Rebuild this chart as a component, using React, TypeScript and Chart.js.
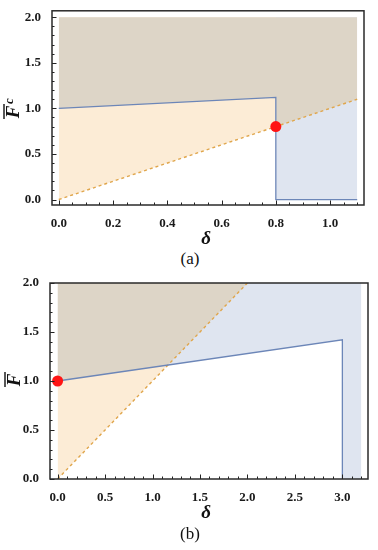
import React, { useEffect, useRef } from "react";
import { Chart, registerables } from "chart.js";
Chart.register(...registerables);

// ---------- Panel (a) data ----------
const A_X_TICKS = [0, 0.2, 0.4, 0.6, 0.8, 1.0];
const A_Y_TICKS = [0, 0.5, 1.0, 1.5, 2.0];
const A_DASH_X = [0, 1.1];
const A_DASH_Y = [0, 1.1];
const A_BLUE_X = [0, 0.8, 0.8, 1.1];
const A_BLUE_Y = [1.0, 1.12, 0, 0];
const A_ORANGE_X = [0, 0.8];
const A_ORANGE_Y = [0, 0.8];
const A_BLUEREG_X = [0.8, 1.1];
const A_BLUEREG_Y = [0, 0];
const A_GRAY_X = [0, 0.8, 0.8, 1.1];
const A_GRAY_Y = [1.0, 1.12, 0.8, 1.1];
const A_DOT_X = [0.8];
const A_DOT_Y = [0.8];

// ---------- Panel (b) data ----------
const B_X_TICKS = [0, 0.5, 1.0, 1.5, 2.0, 2.5, 3.0];
const B_Y_TICKS = [0, 0.5, 1.0, 1.5, 2.0];
const B_DASH_X = [0, 2.0];
const B_DASH_Y = [0, 2.0];
const B_BLUE_X = [0, 3.0, 3.0];
const B_BLUE_Y = [1.0, 1.42, 0];
const B_ORANGE_X = [0, 2.0];
const B_ORANGE_Y = [0, 2.0];
const B_BLUEREG_X = [0, 3.0, 3.0, 3.2];
const B_BLUEREG_Y = [1.0, 1.42, 0, 0];
const B_GRAY_X = [0, 1.16, 2.0];
const B_GRAY_Y = [1.0, 1.16, 2.0];
const B_DOT_X = [0];
const B_DOT_Y = [1.0];

const C_GRAY = "#ddd5c7";
const C_ORANGE = "#fcecd6";
const C_BLUE = "#dfe5f0";
const C_LINE = "#6c86b8";
const C_DASH = "#e0a64c";
const C_DOT = "#ff1414";
const SERIF = '"Liberation Serif", "Times New Roman", serif';

const pts = (xs: number[], ys: number[]) => xs.map((x, i) => ({ x, y: ys[i] }));

function range(start: number, end: number, step: number) {
  const out: number[] = [];
  const n = Math.round((end - start) / step);
  for (let i = 0; i <= n; i++) out.push(+(start + i * step).toFixed(4));
  return out;
}

type PanelCfg = {
  top: number;
  height: number;
  padTop: number;
  padRight: number;
  yWidth: number;
  xMin: number;
  xMax: number;
  yMin: number;
  yMax: number;
  xTicks: number[];
  yTicks: number[];
  xMinorStep: number;
  xMinorEnd: number;
  yMinorStep: number;
  frameBottom: number;
  deltaPos: [number, number];
  fPos: [number, number];
  sub: string;
  caption: string;
  captionY: number;
  dash: { x: number; y: number }[];
  blue: { x: number; y: number }[];
  orange: { x: number; y: number }[];
  blueReg: { x: number; y: number }[];
  gray: { x: number; y: number }[];
  dot: { x: number; y: number }[];
};

function Panel({ cfg }: { cfg: PanelCfg }) {
  const ref = useRef<HTMLCanvasElement>(null);
  useEffect(() => {
    const decor = {
      id: "decor",
      afterDraw(chart: any) {
        const { ctx, chartArea: a, scales } = chart;
        const x = scales.x;
        const y = scales.y;
        ctx.save();
        // ticks
        ctx.strokeStyle = "#222";
        ctx.lineWidth = 1;
        ctx.beginPath();
        const xMinor = range(0, cfg.xMinorEnd, cfg.xMinorStep);
        xMinor.forEach((v) => {
          const px = Math.round(x.getPixelForValue(v)) + 0.5;
          ctx.moveTo(px, a.bottom);
          ctx.lineTo(px, a.bottom - 2.5);
        });
        cfg.xTicks.forEach((v) => {
          const px = Math.round(x.getPixelForValue(v)) + 0.5;
          ctx.moveTo(px, a.bottom);
          ctx.lineTo(px, a.bottom - 4.5);
        });
        const yMinor = range(0, 2, cfg.yMinorStep);
        yMinor.forEach((v) => {
          const py = Math.round(y.getPixelForValue(v)) + 0.5;
          ctx.moveTo(a.left, py);
          ctx.lineTo(a.left + 2.5, py);
        });
        cfg.yTicks.forEach((v) => {
          const py = Math.round(y.getPixelForValue(v)) + 0.5;
          ctx.moveTo(a.left, py);
          ctx.lineTo(a.left + 4.5, py);
        });
        ctx.stroke();
        // frame
        ctx.strokeStyle = "#2a2a2a";
        ctx.lineWidth = 1.5;
        ctx.strokeRect(a.left, a.top, a.right - a.left, a.bottom - a.top);
        // x title
        ctx.fillStyle = "#111";
        ctx.font = `italic bold 19px ${SERIF}`;
        ctx.textAlign = "center";
        ctx.textBaseline = "middle";
        ctx.fillText("δ", cfg.deltaPos[0], cfg.deltaPos[1]);
        // y title (rotated F with overline and optional subscript)
        ctx.translate(cfg.fPos[0], cfg.fPos[1]);
        ctx.rotate(-Math.PI / 2);
        ctx.font = `italic bold 19px ${SERIF}`;
        ctx.fillText("F", 0, 0);
        ctx.strokeStyle = "#111";
        ctx.lineWidth = 1.4;
        ctx.beginPath();
        ctx.moveTo(-7, -10);
        ctx.lineTo(8, -10);
        ctx.stroke();
        if (cfg.sub) {
          ctx.font = `italic bold 13px ${SERIF}`;
          ctx.fillText(cfg.sub, 11, -4);
        }
        ctx.restore();
      },
    };

    const fillDs = (data: any, color: string, order: number) => ({
      data,
      showLine: true,
      borderWidth: 0,
      borderColor: "transparent",
      backgroundColor: color,
      pointRadius: 0,
      fill: { value: 2 },
      order,
    });

    const chart = new Chart(ref.current!, {
      type: "scatter",
      data: {
        datasets: [
          fillDs(cfg.orange, C_ORANGE, 10),
          fillDs(cfg.blueReg, C_BLUE, 9),
          fillDs(cfg.gray, C_GRAY, 8),
          {
            data: cfg.dash,
            showLine: true,
            borderColor: C_DASH,
            borderWidth: 1.4,
            borderDash: [3, 3],
            pointRadius: 0,
            fill: false,
            order: 3,
          },
          {
            data: cfg.blue,
            showLine: true,
            borderColor: C_LINE,
            borderWidth: 1.3,
            pointRadius: 0,
            fill: false,
            order: 2,
          },
          {
            data: cfg.dot,
            showLine: false,
            pointRadius: 5.5,
            pointBackgroundColor: C_DOT,
            pointBorderWidth: 0,
            backgroundColor: C_DOT,
            borderColor: C_DOT,
            order: 1,
          },
        ] as any,
      },
      options: {
        animation: false,
        responsive: false,
        events: [],
        layout: { padding: { top: cfg.padTop, right: cfg.padRight, left: 0, bottom: 0 } },
        plugins: { legend: { display: false }, tooltip: { enabled: false } },
        scales: {
          x: {
            type: "linear",
            min: cfg.xMin,
            max: cfg.xMax,
            afterBuildTicks: (s: any) => {
              s.ticks = cfg.xTicks.map((v) => ({ value: v }));
            },
            afterFit: (s: any) => {
              s.height = cfg.height - cfg.frameBottom;
            },
            grid: { display: false },
            border: { display: false },
            ticks: {
              font: { family: SERIF, size: 13, weight: "bold" },
              color: "#1a1a1a",
              padding: 3,
              maxRotation: 0,
              autoSkip: false,
              callback: (v: any) => Number(v).toFixed(1),
            },
          },
          y: {
            type: "linear",
            min: cfg.yMin,
            max: cfg.yMax,
            afterBuildTicks: (s: any) => {
              s.ticks = cfg.yTicks.map((v) => ({ value: v }));
            },
            afterFit: (s: any) => {
              s.width = cfg.yWidth;
            },
            grid: { display: false },
            border: { display: false },
            ticks: {
              font: { family: SERIF, size: 13, weight: "bold" },
              color: "#1a1a1a",
              padding: 3,
              autoSkip: false,
              callback: (v: any) => Number(v).toFixed(1),
            },
          },
        },
      } as any,
      plugins: [decor],
    });
    return () => chart.destroy();
  }, [cfg]);

  return (
    <>
      <canvas
        ref={ref}
        width={378}
        height={cfg.height}
        style={{ position: "absolute", left: 0, top: cfg.top, width: 378, height: cfg.height }}
      />
      <div
        style={{
          position: "absolute",
          left: 160,
          width: 60,
          top: cfg.captionY - 10,
          lineHeight: "20px",
          textAlign: "center",
          fontFamily: SERIF,
          fontSize: 17,
          color: "#111",
        }}
      >
        {cfg.caption}
      </div>
    </>
  );
}

const CFG_A: PanelCfg = {
  top: 0,
  height: 245,
  padTop: 9,
  padRight: 14,
  yWidth: 52,
  xMin: -0.025,
  xMax: 1.125,
  yMin: -0.06,
  yMax: 2.07,
  xTicks: A_X_TICKS,
  yTicks: A_Y_TICKS,
  xMinorStep: 0.05,
  xMinorEnd: 1.1,
  yMinorStep: 0.1,
  frameBottom: 205,
  deltaPos: [206, 239],
  fPos: [14, 112],
  sub: "c",
  caption: "(a)",
  captionY: 259,
  dash: pts(A_DASH_X, A_DASH_Y),
  blue: pts(A_BLUE_X, A_BLUE_Y),
  orange: pts(A_ORANGE_X, A_ORANGE_Y),
  blueReg: pts(A_BLUEREG_X, A_BLUEREG_Y),
  gray: pts(A_GRAY_X, A_GRAY_Y),
  dot: pts(A_DOT_X, A_DOT_Y),
};

const CFG_B: PanelCfg = {
  top: 270,
  height: 280,
  padTop: 13,
  padRight: 10,
  yWidth: 50,
  xMin: -0.08,
  xMax: 3.27,
  yMin: 0,
  yMax: 2,
  xTicks: B_X_TICKS,
  yTicks: B_Y_TICKS,
  xMinorStep: 0.1,
  xMinorEnd: 3.2,
  yMinorStep: 0.1,
  frameBottom: 209,
  deltaPos: [206, 243],
  fPos: [15, 110],
  sub: "",
  caption: "(b)",
  captionY: 534,
  dash: pts(B_DASH_X, B_DASH_Y),
  blue: pts(B_BLUE_X, B_BLUE_Y),
  orange: pts(B_ORANGE_X, B_ORANGE_Y),
  blueReg: pts(B_BLUEREG_X, B_BLUEREG_Y),
  gray: pts(B_GRAY_X, B_GRAY_Y),
  dot: pts(B_DOT_X, B_DOT_Y),
};

export default function App() {
  return (
    <div style={{ position: "absolute", left: 0, top: 0, width: 378, height: 550, background: "#fff" }}>
      <Panel cfg={CFG_A} />
      <Panel cfg={CFG_B} />
    </div>
  );
}
